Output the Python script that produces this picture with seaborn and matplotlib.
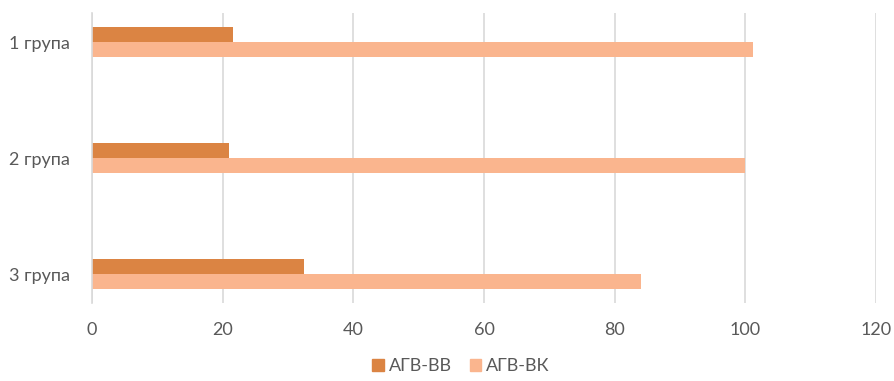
import numpy as np
import pandas as pd
import matplotlib
matplotlib.use("Agg")
import matplotlib.pyplot as plt
import seaborn as sns

# --- дані ---
groups = ["1 група", "2 група", "3 група"]
series_names = ["АГВ-ВВ", "АГВ-ВК"]
agv_vv = [21.6, 20.9, 32.4]
agv_vk = [101.1, 100.0, 84.0]
x_ticks = [0, 20, 40, 60, 80, 100, 120]

COLORS = ["#DB8443", "#FAB58E"]
TEXT = "#595959"
GRID = "#D9D9D9"

df = pd.DataFrame({
    "group": groups * 2,
    "series": [series_names[0]] * 3 + [series_names[1]] * 3,
    "value": agv_vv + agv_vk,
})

sns.set_style("white")
plt.rcParams["font.family"] = ["Lato", "DejaVu Sans"]

fig = plt.figure(figsize=(8.95, 3.81), dpi=100)
ax = fig.add_axes([92 / 895, 1 - 303 / 381, (876 - 92) / 895, (303 - 13) / 381])

sns.barplot(data=df, y="group", x="value", hue="series", order=groups,
            hue_order=series_names, palette=COLORS, width=0.26, orient="h",
            ax=ax, legend=False, saturation=1, edgecolor="none")

ax.set_xlim(0, 120)
ax.set_ylim(2.25, -0.25)
ax.set_xticks(x_ticks)
ax.set_xticklabels([str(t) for t in x_ticks])
ax.set_xlabel("")
ax.set_ylabel("")
ax.grid(axis="x", color=GRID, linewidth=1.2)
ax.set_axisbelow(True)
for s in ["top", "right", "bottom"]:
    ax.spines[s].set_visible(False)
ax.spines["left"].set_color(GRID)
ax.spines["left"].set_linewidth(1.2)
ax.tick_params(axis="both", length=0, labelsize=13, labelcolor=TEXT)
ax.tick_params(axis="x", pad=14)
ax.tick_params(axis="y", pad=16)

handles = [plt.Rectangle((0, 0), 1, 1, color=c) for c in COLORS]
fig.legend(handles, series_names, loc="lower center", ncol=2, frameon=False,
           bbox_to_anchor=(0.515, -0.025), fontsize=13, labelcolor=TEXT,
           handlelength=0.65, handleheight=0.65, handletextpad=0.25,
           columnspacing=1.0)

fig.savefig("out.png", dpi=100)
